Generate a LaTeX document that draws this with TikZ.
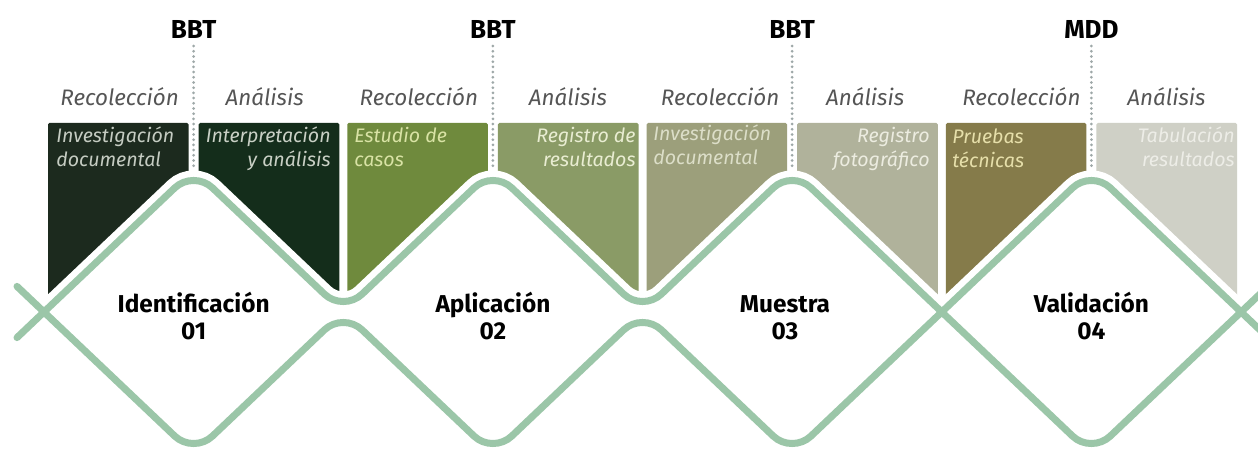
\documentclass[tikz,border=0pt]{standalone}
\usepackage{fontspec}
\setmainfont{Fira Sans}
\definecolor{wavegreen}{HTML}{9BC6A8}
\definecolor{subgray}{HTML}{555555}
\definecolor{dotgray}{HTML}{9EA8A8}
\definecolor{fillA}{HTML}{1C2A1E}
\definecolor{fillB}{HTML}{142D1B}
\definecolor{fillC}{HTML}{6F8A3D}
\definecolor{fillD}{HTML}{8A9B66}
\definecolor{fillE}{HTML}{9C9F7B}
\definecolor{fillF}{HTML}{B0B29B}
\definecolor{fillG}{HTML}{857B4A}
\definecolor{fillH}{HTML}{CFD0C6}
\definecolor{txtA}{HTML}{C5CCC2}
\definecolor{txtB}{HTML}{C9D0C5}
\definecolor{txtC}{HTML}{D9E3A5}
\definecolor{txtD}{HTML}{E9EDD2}
\definecolor{txtE}{HTML}{DCDEC8}
\definecolor{txtF}{HTML}{ECECE0}
\definecolor{txtG}{HTML}{E6DFAA}
\definecolor{txtH}{HTML}{EDEDE7}
\begin{document}
\begin{tikzpicture}[x=0.5pt,y=-0.5pt,
  wave/.style={line width=3.5pt, draw=wavegreen, rounded corners=13pt, line cap=round},
  gapline/.style={line width=10pt, draw=white, rounded corners=13pt, line cap=round},
  blockshape/.style={rounded corners=0.75pt},
  toplabel/.style={font=\bfseries\fontsize{13}{15}\selectfont, anchor=base, text=black},
  sublabel/.style={font=\itshape\fontsize{11.2}{12}\selectfont, text=subgray, anchor=base},
  inleft/.style={font=\itshape\fontsize{9.8}{12}\selectfont, anchor=base west, align=left, inner sep=0pt},
  inright/.style={font=\itshape\fontsize{9.8}{12}\selectfont, anchor=base east, align=right, inner sep=0pt},
  stagelabel/.style={font=\bfseries\fontsize{12.2}{13.5}\selectfont, align=center, anchor=base, text=black},
  dots/.style={draw=dotgray, line width=1.5pt, line cap=round, dash pattern=on 0pt off 2.6pt}
]
\useasboundingbox (0,0) rectangle (1258,453);
\fill[white] (0,0) rectangle (1258,453);

% coloured blocks
\fill[fillA, blockshape] (48,123) -- (188.6,123) -- (188.6,174.8) -- (48,308.2) -- cycle;
\fill[fillB, blockshape] (198.6,123) -- (339.25,123) -- (339.25,308.2) -- (198.6,174.8) -- cycle;
\fill[fillC, blockshape] (347.25,123) -- (487.9,123) -- (487.9,174.8) -- (347.25,308.2) -- cycle;
\fill[fillD, blockshape] (497.9,123) -- (638.5,123) -- (638.5,308.2) -- (497.9,174.8) -- cycle;
\fill[fillE, blockshape] (646.5,123) -- (787.1,123) -- (787.1,174.8) -- (646.5,308.2) -- cycle;
\fill[fillF, blockshape] (797.1,123) -- (937.75,123) -- (937.75,308.2) -- (797.1,174.8) -- cycle;
\fill[fillG, blockshape] (945.75,123) -- (1086.4,123) -- (1086.4,174.8) -- (945.75,308.2) -- cycle;
\fill[fillH, blockshape] (1096.4,123) -- (1237,123) -- (1237,308.2) -- (1096.4,174.8) -- cycle;

% braided wave
\draw[gapline] (17,337.6) -- (193.6,170) -- (343.25,312) -- (492.9,170) -- (642.5,312) -- (792.1,170) -- (1091.4,454) -- (1275,279.8);
\draw[gapline] (17,286.4) -- (193.6,454) -- (343.25,312) -- (492.9,454) -- (642.5,312) -- (792.1,454) -- (1091.4,170) -- (1275,344.2);
\draw[wave] (17,337.6) -- (193.6,170) -- (343.25,312) -- (492.9,170) -- (642.5,312) -- (792.1,170) -- (1091.4,454) -- (1275,279.8);
\draw[wave] (17,286.4) -- (193.6,454) -- (343.25,312) -- (492.9,454) -- (642.5,312) -- (792.1,454) -- (1091.4,170) -- (1275,344.2);

% top labels and dotted dividers
\node[toplabel] (t1) at (193.6,39) {BBT};
\node[toplabel] (t2) at (492.9,39) {BBT};
\node[toplabel] (t3) at (792.1,39) {BBT};
\node[toplabel] (t4) at (1091.4,39) {MDD};
\coordinate (d1) at (193.6,166);
\coordinate (d2) at (492.9,166);
\coordinate (d3) at (792.1,166);
\coordinate (d4) at (1091.4,166);
\draw[dots] (t1.south) -- (d1);
\draw[dots] (t2.south) -- (d2);
\draw[dots] (t3.south) -- (d3);
\draw[dots] (t4.south) -- (d4);

% phase labels
\node[sublabel] (r1) at (119.6,106) {Recolección};
\node[sublabel] (a1) at (264.6,106) {Análisis};
\node[sublabel] (r2) at (418.9,106) {Recolección};
\node[sublabel] (a2) at (567.9,106) {Análisis};
\node[sublabel] (r3) at (720.1,106) {Recolección};
\node[sublabel] (a3) at (865.1,106) {Análisis};
\node[sublabel] (r4) at (1021.4,106) {Recolección};
\node[sublabel] (a4) at (1166.4,106) {Análisis};

% block texts (base = baseline of the last line)
\node[inleft, text=txtA] (l1) at (56,167) {Investigación\\documental};
\node[inright, text=txtB] (q1) at (331,167) {Interpretación\\y análisis};
\node[inleft, text=txtC] (l2) at (354,167) {Estudio de\\casos};
\node[inright, text=txtD] (q2) at (636,167) {Registro de\\resultados};
\node[inleft, text=txtE] (l3) at (653,165) {Investigación\\documental};
\node[inright, text=txtF] (q3) at (930,167) {Registro\\fotográfico};
\node[inleft, text=txtG] (l4) at (952,168) {Pruebas\\técnicas};
\node[inright, text=txtH] (q4) at (1235,167) {Tabulación\\resultados};

% stage names
\node[stagelabel] (s1) at (193.6,340) {Identificación\\01};
\node[stagelabel] (s2) at (492.9,340) {Aplicación\\02};
\node[stagelabel] (s3) at (785,340) {Muestra\\03};
\node[stagelabel] (s4) at (1091.4,340) {Validación\\04};
\end{tikzpicture}
\end{document}
